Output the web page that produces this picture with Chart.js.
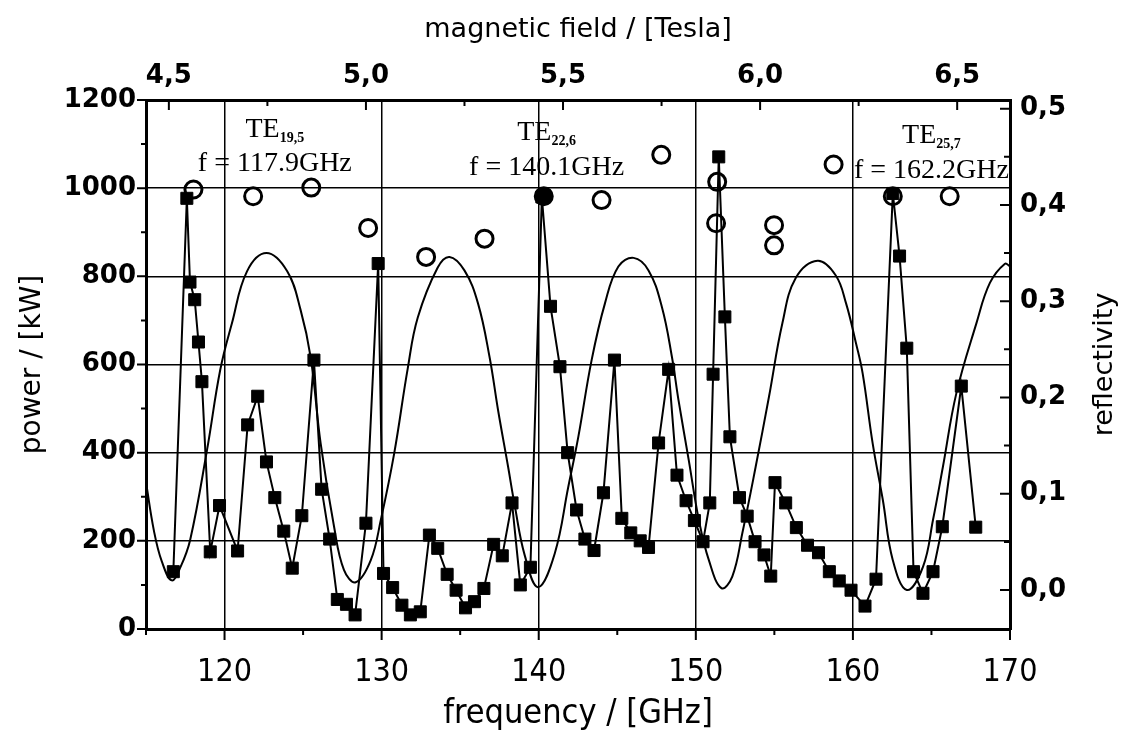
<!DOCTYPE html>
<html>
<head>
<meta charset="utf-8">
<script src="https://cdn.jsdelivr.net/npm/chart.js@4"></script>
<style>
  html, body { margin: 0; padding: 0; background: #fff; }
  #wrap { width: 1135px; height: 753px; }
</style>
</head>
<body>
<div id="wrap"><canvas id="gyro" width="1135" height="753"></canvas></div>
<script>
// measured output power of the gyrotron (squares)
var freqPower = [116.74, 117.6, 117.8, 118.1, 118.34, 118.56, 119.09, 119.68, 120.83, 121.47, 122.11, 122.67, 123.2, 123.77, 124.31, 124.92, 125.69, 126.18, 126.69, 127.18, 127.76, 128.31, 129.0, 129.78, 130.12, 130.7, 131.29, 131.83, 132.46, 133.04, 133.57, 134.17, 134.74, 135.34, 135.91, 136.51, 137.13, 137.68, 138.3, 138.83, 139.47, 140.2, 140.75, 141.35, 141.84, 142.41, 142.94, 143.52, 144.12, 144.82, 145.29, 145.86, 146.46, 146.99, 147.63, 148.27, 148.8, 149.38, 149.91, 150.46, 150.89, 151.1, 151.46, 151.85, 152.17, 152.78, 153.27, 153.77, 154.34, 154.77, 155.04, 155.72, 156.4, 157.11, 157.81, 158.5, 159.13, 159.88, 160.77, 161.47, 162.54, 162.97, 163.43, 163.86, 164.46, 165.1, 165.69, 166.9, 167.82];
var power = [130, 977, 787, 747, 651, 561, 175, 280, 177, 463, 528, 379, 298, 222, 138, 257, 610, 317, 204, 67, 56, 32, 240, 829, 126, 94, 54, 32, 39, 213, 183, 124, 88, 48, 62, 92, 192, 166, 286, 100, 140, 980, 732, 595, 400, 270, 204, 178, 309, 610, 251, 218, 200, 185, 422, 589, 349, 291, 246, 198, 286, 578, 1071, 708, 436, 298, 256, 198, 168, 120, 332, 286, 230, 190, 173, 130, 109, 88, 52, 113, 988, 846, 637, 130, 81, 130, 232, 551, 231];

// measured reflectivity (open circles)
var freqRefl = [118.02, 121.82, 125.52, 129.14, 132.83, 136.55, 140.32, 144.0, 147.8, 151.36, 151.29, 154.98, 154.98, 158.77, 162.54, 166.16];
var refl = [0.416, 0.409, 0.418, 0.376, 0.346, 0.365, 0.409, 0.405, 0.452, 0.424, 0.381, 0.379, 0.358, 0.442, 0.409, 0.409];

// calculated reflectivity of the window (solid curve)
var freqModel = [115.0, 115.5, 116.0, 116.64, 117.2, 117.81, 118.88, 119.73, 120.47, 121.43, 122.67, 123.99, 124.84, 125.48, 126.12, 126.97, 127.6, 128.35, 129.31, 129.95, 130.8, 131.66, 132.3, 133.57, 134.32, 135.27, 136.13, 136.87, 137.41, 138.05, 138.47, 139.11, 139.96, 141.02, 141.88, 142.52, 143.37, 144.22, 145.07, 146.04, 146.99, 147.84, 148.48, 148.9, 149.55, 150.19, 150.83, 151.63, 152.32, 152.96, 153.81, 154.66, 155.51, 156.36, 157.75, 158.9, 159.56, 160.2, 160.62, 161.26, 161.9, 162.54, 163.43, 164.46, 165.1, 165.73, 166.58, 167.86, 168.72, 169.68, 170.0];
var reflModel = [0.112, 0.062, 0.030, 0.010, 0.024, 0.052, 0.145, 0.229, 0.277, 0.331, 0.350, 0.331, 0.291, 0.242, 0.152, 0.066, 0.021, 0.008, 0.031, 0.073, 0.142, 0.230, 0.283, 0.335, 0.346, 0.332, 0.298, 0.242, 0.187, 0.128, 0.088, 0.036, 0.003, 0.038, 0.107, 0.159, 0.239, 0.298, 0.336, 0.345, 0.332, 0.294, 0.242, 0.197, 0.135, 0.073, 0.031, 0.002, 0.014, 0.059, 0.128, 0.201, 0.277, 0.324, 0.342, 0.327, 0.298, 0.256, 0.225, 0.152, 0.094, 0.031, 0.000, 0.024, 0.073, 0.128, 0.204, 0.277, 0.319, 0.339, 0.336];

// operating modes written above the peaks
var modeNames = ['19,5', '22,6', '25,7'];
var modeFreqs = ['117.9', '140.1', '162.2'];

function pairs(xs, ys) {
  var out = [];
  for (let i = 0; i < xs.length; i++) out.push({x: xs[i], y: ys[i]});
  return out;
}

var sans = "'DejaVu Sans', sans-serif";
var narrow = "'Liberation Sans Narrow', 'DejaVu Sans Condensed', sans-serif";
var serif = "'Liberation Serif', 'DejaVu Serif', serif";

function comma(v) { return v.toFixed(1).replace('.', ','); }
function near(v, step) { return Math.abs(v / step - Math.round(v / step)) < 1e-6; }

// ticks on all four sides, long on labelled values, short in between
var frameTicks = {
  id: 'frameTicks',
  afterDraw(chart) {
    const c = chart.ctx;
    const s = chart.scales;
    c.save();
    c.strokeStyle = '#000';
    c.lineWidth = 2;
    c.beginPath();
    s.x.ticks.forEach(t => {
      const px = s.x.getPixelForValue(t.value);
      const len = near(t.value, 10) ? 11 : 6;
      c.moveTo(px, s.x.top); c.lineTo(px, s.x.top + len);
    });
    s.y.ticks.forEach(t => {
      const py = s.y.getPixelForValue(t.value);
      const len = near(t.value, 200) ? 9 : 5;
      c.moveTo(s.y.right, py); c.lineTo(s.y.right - len, py);
    });
    s.x2.ticks.forEach(t => {
      const px = s.x2.getPixelForValue(t.value);
      const len = near(t.value, 0.5) ? 10 : 6;
      c.moveTo(px, s.x2.bottom); c.lineTo(px, s.x2.bottom + len);
    });
    s.y1.ticks.forEach(t => {
      const py = s.y1.getPixelForValue(t.value);
      const len = near(t.value, 0.1) ? 10 : 6;
      c.moveTo(s.y1.left, py); c.lineTo(s.y1.left - len, py);
    });
    c.stroke();

    // right axis title reads bottom to top
    c.font = '27px ' + sans;
    c.fillStyle = '#000';
    c.textAlign = 'center';
    c.textBaseline = 'middle';
    c.translate(1105, (chart.chartArea.top + chart.chartArea.bottom) / 2);
    c.rotate(-Math.PI / 2);
    c.fillText('reflectivity', 0, 0);
    c.restore();
  }
};

// TE mode labels with subscripts
var modeLabels = {
  id: 'modeLabels',
  afterDatasetsDraw(chart) {
    const c = chart.ctx;
    const sx = chart.scales.x, sy = chart.scales.y;
    const anchors = [[123.2, 1116, 1039], [140.5, 1109, 1029], [165.0, 1102, 1023]];
    c.save();
    c.fillStyle = '#000';
    c.textBaseline = 'alphabetic';
    modeNames.forEach((m, i) => {
      const cx = sx.getPixelForValue(anchors[i][0]);
      const y1 = sy.getPixelForValue(anchors[i][1]);
      const y2 = sy.getPixelForValue(anchors[i][2]);
      c.font = '28px ' + serif;
      const wTE = c.measureText('TE').width;
      c.font = 'bold 14px ' + serif;
      const wSub = c.measureText(m).width;
      const left = cx - (wTE + wSub) / 2;
      c.textAlign = 'left';
      c.font = '28px ' + serif;
      c.fillText('TE', left, y1);
      c.font = 'bold 14px ' + serif;
      c.fillText(m, left + wTE, y1 + 5);
      c.font = '28px ' + serif;
      c.textAlign = 'center';
      c.fillText('f = ' + modeFreqs[i] + 'GHz', cx, y2);
    });
    c.restore();
  }
};

var ctx = document.getElementById('gyro').getContext('2d');
var chart = new Chart(ctx, {
  type: 'scatter',
  data: {
    datasets: [{
      label: 'power',
      data: pairs(freqPower, power),
      yAxisID: 'y',
      showLine: true,
      borderColor: '#000',
      borderWidth: 2,
      backgroundColor: '#000',
      pointStyle: 'rect',
      pointRadius: 8.5,
      pointBorderWidth: 1
    }, {
      label: 'reflectivity',
      data: pairs(freqRefl, refl),
      yAxisID: 'y1',
      showLine: false,
      borderColor: '#000',
      pointBorderWidth: 3,
      pointRadius: 8.5,
      pointBackgroundColor: c => c.dataIndex === 6 ? '#000' : 'rgba(0,0,0,0)'
    }, {
      label: 'window',
      data: pairs(freqModel, reflModel),
      yAxisID: 'y1',
      showLine: true,
      borderColor: '#000',
      borderWidth: 2,
      pointRadius: 0,
      tension: 0.4
    }]
  },
  options: {
    responsive: false,
    animation: false,
    layout: { padding: 0 },
    plugins: { legend: { display: false }, tooltip: { enabled: false } },
    scales: {
      x: {
        type: 'linear', position: 'bottom', min: 115, max: 170,
        afterFit: s => { s.height = 124; },
        border: { color: '#000', width: 3 },
        grid: { color: c => near(c.tick.value, 10) ? '#000' : 'rgba(0,0,0,0)', lineWidth: 1.5, drawTicks: false },
        ticks: {
          stepSize: 5, includeBounds: false, autoSkip: false, maxRotation: 0, padding: 24,
          color: '#000', font: { family: narrow, size: 32 },
          callback: v => near(v, 10) ? v : ''
        },
        title: { display: true, text: 'frequency / [GHz]', color: '#000', font: { family: narrow, size: 34 }, padding: { bottom: 18 } }
      },
      x2: {
        type: 'linear', position: 'top', min: 4.442, max: 6.634,
        afterFit: s => { s.height = 100; },
        border: { color: '#000', width: 3 },
        grid: { display: false, drawTicks: false },
        ticks: {
          stepSize: 0.25, includeBounds: false, autoSkip: false, maxRotation: 0, padding: 8,
          color: '#000', font: { family: sans, size: 26, weight: 'bold' },
          callback: v => near(v, 0.5) ? comma(v) : ''
        },
        title: { display: true, text: 'magnetic field / [Tesla]', color: '#000', font: { family: sans, size: 27 }, padding: { top: 14 } }
      },
      y: {
        type: 'linear', position: 'left', min: 0, max: 1200,
        afterFit: s => { s.width = 146; },
        border: { color: '#000', width: 3 },
        grid: { color: c => near(c.tick.value, 200) ? '#000' : 'rgba(0,0,0,0)', lineWidth: 1.5, drawTicks: false },
        ticks: {
          stepSize: 100, includeBounds: false, autoSkip: false, padding: 10,
          color: '#000', font: { family: sans, size: 26, weight: 'bold' },
          callback: v => near(v, 200) ? v : ''
        },
        title: { display: true, text: 'power / [kW]', color: '#000', font: { family: sans, size: 28 }, padding: { top: 16 } }
      },
      y1: {
        type: 'linear', position: 'right', min: -0.0405, max: 0.509,
        afterFit: s => { s.width = 125; },
        border: { color: '#000', width: 3 },
        grid: { display: false, drawTicks: false },
        ticks: {
          stepSize: 0.05, includeBounds: false, autoSkip: false, padding: 10,
          color: '#000', font: { family: sans, size: 26, weight: 'bold' },
          callback: v => near(v, 0.1) ? comma(v) : ''
        }
      }
    }
  },
  plugins: [frameTicks, modeLabels]
});
</script>
</body>
</html>
